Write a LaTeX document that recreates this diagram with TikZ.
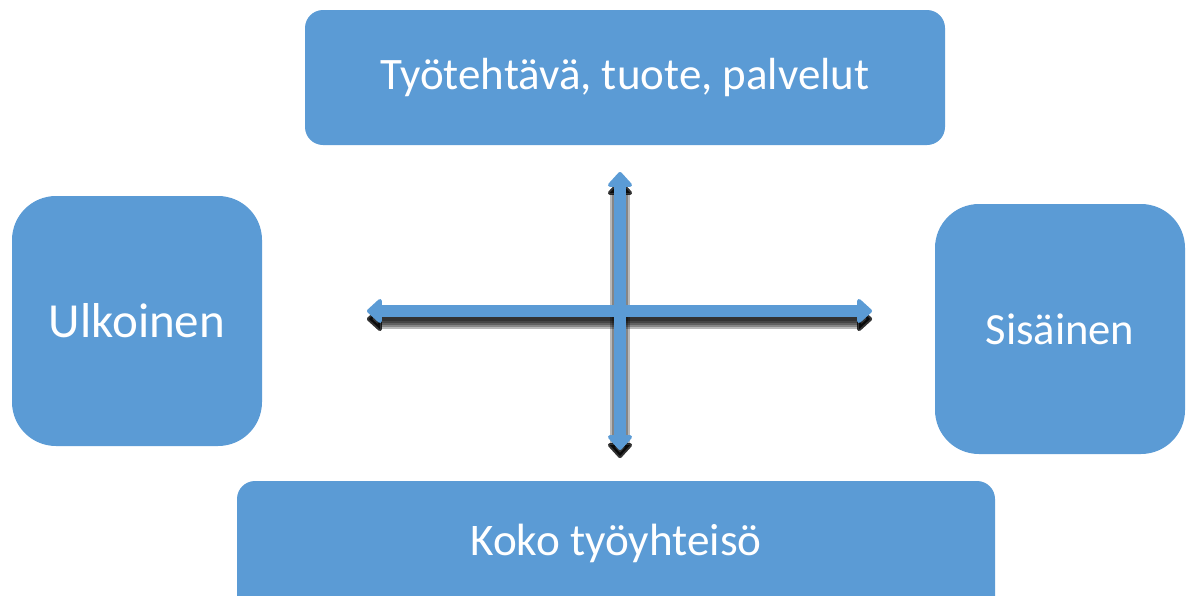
\documentclass[tikz,border=0pt]{standalone}
\usepackage{fontspec}
\setmainfont{Carlito}
\usetikzlibrary{arrows.meta}
\definecolor{boxblue}{HTML}{5B9BD5}
\begin{document}
\begin{tikzpicture}[x=0.5pt,y=-0.5pt,
  box/.style={fill=boxblue, draw=none, text=white, inner sep=0pt},
  txt/.style={text=white, inner sep=0pt},
  axis/.style={draw=boxblue, line width=6pt, {Triangle[round,length=8pt,width=14pt]}-{Triangle[round,length=8pt,width=14pt]}},
  shad/.style={draw=black, line width=#1, opacity=0.28, {Triangle[round,length=8pt,width=14pt]}-{Triangle[round,length=8pt,width=14pt]}}
]
\useasboundingbox (0,0) rectangle (1194,595);
% boxes
\node[box, rounded corners=9pt, minimum width=320pt, minimum height=67.5pt, font=\fontsize{22.5}{26}\selectfont] (top) at (625,77.5) {Työtehtävä, tuote, palvelut};
\node[box, rounded corners=22pt, minimum width=125pt, minimum height=125pt, font=\fontsize{24.5}{28}\selectfont] (left) at (137,321) {Ulkoinen};
\node[box, rounded corners=22pt, minimum width=125pt, minimum height=125pt, font=\fontsize{22.3}{26}\selectfont] (right) at (1060,329) {Sisäinen};
\node[box, rounded corners=9pt, minimum width=379pt, minimum height=75pt] (bottom) at (616,556) {};
\node[txt, font=\fontsize{22.6}{26}\selectfont] (bottomtext) at (616,543) {Koko työyhteisö};
% axis end points
\coordinate (hl) at (367,311);
\coordinate (hr) at (872,311);
\coordinate (vt) at (620,172);
\coordinate (vb) at (620,450);
% shadows (offset downwards)
\foreach \w in {2pt,4pt,6pt,8pt,10pt}{
  \draw[shad=\w] ([yshift=-4pt]hl) -- ([yshift=-4pt]hr);
  \draw[shad=\w] ([yshift=-4pt]vt) -- ([yshift=-4pt]vb);
}
% axes
\draw[axis] (hl) -- (hr);
\draw[axis] (vt) -- (vb);
\end{tikzpicture}
\end{document}
